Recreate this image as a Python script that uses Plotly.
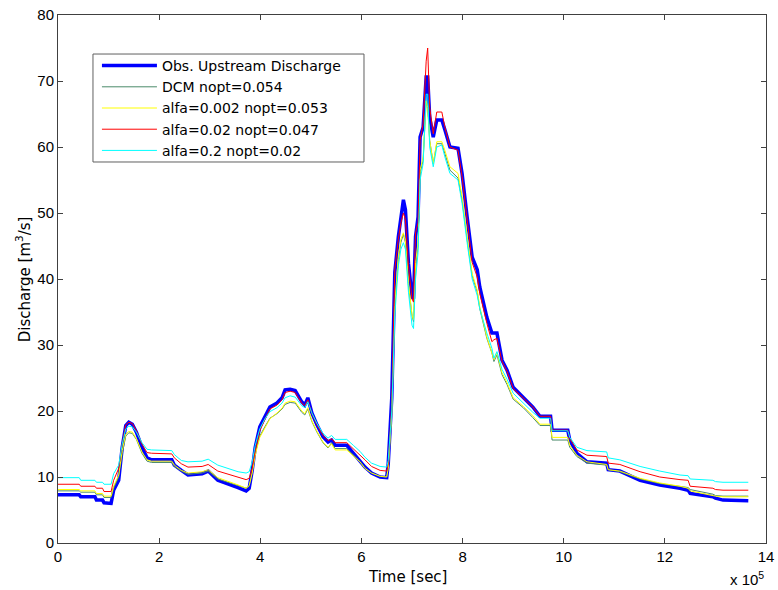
import numpy as np
import plotly.graph_objects as go

# time in units of 1e5 s
time_1e5 = [0.00, 0.42, 0.45, 0.73, 0.76, 0.88, 0.91, 1.05, 1.10, 1.20, 1.27, 1.34, 1.40, 1.47, 1.55, 1.66, 1.76, 1.85,
            2.25, 2.30, 2.44, 2.57, 2.85, 2.97, 3.16, 3.36, 3.56, 3.72, 3.78, 3.84, 3.90, 3.99, 4.09, 4.19, 4.33, 4.43,
            4.49, 4.59, 4.69, 4.82, 4.88, 4.94, 5.02, 5.12, 5.24, 5.34, 5.41, 5.48, 5.71, 5.84, 5.97, 6.07, 6.20, 6.37,
            6.50, 6.53, 6.60, 6.66, 6.73, 6.78, 6.83, 6.87, 6.93, 7.00, 7.03, 7.07, 7.12, 7.16, 7.22, 7.28, 7.31, 7.35,
            7.42, 7.49, 7.59, 7.65, 7.75, 7.91, 7.99, 8.09, 8.19, 8.29, 8.34, 8.48, 8.58, 8.62, 8.68, 8.78, 8.88, 9.00,
            9.20, 9.39, 9.53, 9.74, 9.77, 10.08, 10.12, 10.26, 10.46, 10.85, 10.88, 11.11, 11.51, 11.90, 12.30, 12.46,
            12.50, 12.95, 13.00, 13.15, 13.65]

obs = [7.3, 7.3, 7.0, 7.0, 6.5, 6.5, 6.1, 6.0, 8.0, 9.5, 14.5, 17.8, 18.3, 18.0, 16.8, 14.5, 12.9, 12.6,
       12.6, 11.8, 11.0, 10.3, 10.5, 10.9, 9.5, 9.0, 8.4, 7.9, 8.3, 11.0, 14.5, 17.6, 19.1, 20.6, 21.2, 22.0,
       23.2, 23.3, 23.1, 21.4, 20.9, 22.0, 19.7, 17.9, 16.1, 15.3, 15.6, 14.8, 14.8, 13.6, 12.6, 11.5, 10.6, 10.0,
       9.9, 12.0, 22.0, 41.0, 46.4, 49.4, 52.0, 50.5, 42.4, 37.3, 37.0, 46.4, 49.4, 61.5, 63.0, 70.6, 70.6, 64.5,
       61.5, 64.1, 64.1, 62.6, 60.0, 59.8, 56.0, 49.4, 43.3, 41.4, 38.8, 34.2, 31.8, 31.8, 31.8, 27.7, 26.2, 23.6,
       22.1, 20.6, 19.2, 19.2, 17.1, 17.1, 15.6, 13.6, 12.3, 12.1, 11.1, 10.9, 9.5, 8.8, 8.3, 8.0,
       7.5, 7.0, 6.8, 6.5, 6.4]

dcm = [7.9, 7.9, 7.7, 7.7, 7.3, 7.3, 6.9, 6.9, 8.3, 10.0, 13.5, 16.2, 16.7, 16.6, 15.7, 13.6, 12.4, 12.2,
       12.2, 11.6, 10.9, 10.4, 10.6, 10.9, 9.7, 9.2, 8.7, 8.3, 8.6, 10.7, 13.6, 16.2, 17.6, 18.9, 19.6, 20.3,
       21.0, 21.3, 21.2, 19.8, 19.4, 20.3, 18.4, 16.8, 15.2, 14.4, 15.2, 14.3, 14.3, 13.4, 12.4, 11.4, 10.6, 10.1,
       10.0, 11.5, 20.0, 36.0, 43.0, 45.5, 46.8, 45.5, 39.0, 34.5, 33.5, 42.0, 45.0, 56.0, 58.0, 67.0, 66.0, 61.0,
       57.5, 60.5, 60.5, 59.0, 56.5, 55.3, 52.0, 46.0, 40.5, 38.0, 35.5, 31.0, 28.8, 27.5, 28.5, 25.5, 24.0, 21.8,
       20.5, 19.0, 17.8, 17.8, 15.6, 15.6, 14.5, 13.1, 12.1, 11.8, 11.1, 10.8, 9.7, 9.0, 8.5, 8.4,
       8.1, 7.4, 7.2, 7.1, 7.1]

alfa_0002 = [8.1, 8.1, 7.9, 7.9, 7.5, 7.5, 7.1, 7.1, 8.6, 10.3, 14.0, 16.5, 16.9, 16.8, 15.8, 13.8, 12.6, 12.4,
             12.4, 11.8, 11.0, 10.6, 10.8, 11.1, 9.9, 9.4, 8.8, 8.3, 8.7, 10.6, 13.3, 16.0, 17.4, 18.8, 19.7, 20.4,
             21.2, 21.5, 21.4, 20.0, 19.6, 20.5, 18.5, 16.9, 15.3, 14.5, 15.0, 14.1, 14.1, 13.2, 12.3, 11.3, 10.6, 10.1,
             10.0, 11.3, 19.5, 36.0, 43.5, 46.0, 47.0, 45.8, 39.5, 34.5, 33.8, 42.5, 45.5, 56.5, 58.5, 67.0, 66.0, 61.0,
             57.5, 60.8, 60.8, 59.5, 57.0, 56.0, 52.5, 46.5, 40.8, 38.3, 35.8, 31.2, 29.0, 27.8, 28.8, 25.8, 24.3, 22.0,
             20.7, 19.3, 18.0, 18.0, 16.0, 16.0, 14.8, 13.3, 12.3, 11.9, 11.1, 10.9, 9.8, 9.1, 8.6, 8.3,
             7.9, 7.2, 7.1, 7.0, 7.0]

alfa_002 = [8.9, 8.9, 8.6, 8.6, 8.3, 8.3, 7.8, 7.8, 9.5, 11.3, 15.0, 17.9, 18.3, 18.1, 17.0, 15.0, 13.7, 13.6,
            13.5, 12.9, 12.0, 11.5, 11.6, 11.9, 10.9, 10.4, 10.0, 9.6, 9.8, 11.3, 14.0, 17.0, 18.7, 20.3, 20.9, 21.7,
            22.8, 23.0, 22.8, 21.2, 20.8, 21.7, 19.6, 17.9, 16.3, 15.5, 15.8, 15.2, 15.2, 14.3, 13.4, 12.6, 11.6, 11.0,
            10.9, 12.0, 21.0, 41.5, 46.0, 48.5, 50.0, 49.0, 42.0, 37.0, 36.5, 47.0, 48.5, 61.0, 63.5, 73.0, 75.0, 66.0,
            62.0, 65.3, 65.3, 63.0, 60.0, 59.5, 55.5, 48.5, 42.5, 40.3, 37.8, 33.3, 30.5, 30.8, 31.0, 27.5, 26.0, 23.4,
            22.0, 20.6, 19.2, 19.2, 17.1, 17.1, 15.8, 14.1, 13.3, 13.1, 12.1, 11.9, 10.8, 10.0, 9.6, 9.5,
            8.6, 8.3, 8.1, 8.0, 8.0]

alfa_02 = [9.9, 9.9, 9.5, 9.5, 9.2, 9.2, 8.9, 8.9, 10.5, 11.8, 15.0, 17.3, 17.7, 17.6, 16.8, 15.2, 14.2, 14.1,
           14.0, 13.4, 12.5, 12.3, 12.4, 12.7, 11.8, 11.3, 10.8, 10.6, 10.8, 12.3, 14.8, 17.3, 18.8, 19.9, 20.5, 21.2,
           22.0, 22.3, 22.1, 20.8, 20.5, 21.4, 19.7, 18.1, 16.6, 15.9, 16.3, 15.7, 15.7, 14.8, 13.9, 13.0, 12.1, 11.6,
           11.5, 12.5, 20.0, 34.5, 42.0, 44.5, 45.5, 44.5, 38.0, 33.0, 32.5, 40.0, 44.0, 55.0, 57.5, 68.0, 68.0, 60.0,
           57.0, 60.0, 60.3, 58.5, 56.0, 55.0, 51.5, 45.5, 40.0, 37.5, 35.5, 31.8, 29.5, 28.0, 29.0, 26.3, 24.8, 22.7,
           21.2, 19.8, 18.9, 18.9, 17.0, 17.0, 16.0, 14.5, 14.0, 13.8, 12.9, 12.6, 11.6, 10.9, 10.3, 10.2,
           9.7, 9.5, 9.3, 9.2, 9.2]

series_names = ["Obs. Upstream Discharge", "DCM nopt=0.054", "alfa=0.002 nopt=0.053",
                "alfa=0.02 nopt=0.047", "alfa=0.2 nopt=0.02"]
series_values = [obs, dcm, alfa_0002, alfa_002, alfa_02]
series_colors = ["#0000ff", "#4a8a6a", "#ffff00", "#ff0000", "#00ffff"]
series_widths = [3.5, 1, 1, 1, 1]

x_ticks = list(range(0, 15, 2))
y_ticks = list(range(0, 81, 10))

FONT = "Liberation Sans, Arial, sans-serif"
WIDE = "DejaVu Sans, Liberation Sans, sans-serif"
t = np.array(time_1e5) * 1e5

fig = go.Figure()
for name, vals, col, w in zip(series_names, series_values, series_colors, series_widths):
    fig.add_trace(go.Scatter(x=t, y=vals, mode="lines", name=name,
                             line=dict(color=col, width=w)))

axis_common = dict(showline=True, linecolor="#404040", linewidth=1, mirror="ticks",
                   ticks="inside", ticklen=5, tickcolor="#404040", showgrid=False, zeroline=False,
                   automargin=False,
                   tickfont=dict(family=FONT, size=15, color="black"))

fig.update_xaxes(range=[0, 14e5], tickvals=[v * 1e5 for v in x_ticks],
                 ticktext=[str(v) for v in x_ticks], **axis_common)
fig.update_yaxes(range=[0, 80], tickvals=y_ticks, ticktext=[str(v) for v in y_ticks], **axis_common)

# legend box (MATLAB style)
fig.add_shape(type="rect", xref="paper", yref="paper", x0=0.0494, x1=0.4322, y0=0.7216, y1=0.9261,
              line=dict(color="#606060", width=1), fillcolor="white", layer="above")

fig.update_layout(
    width=778, height=590,
    margin=dict(l=58, r=12, t=15, b=47),
    paper_bgcolor="white", plot_bgcolor="white",
    font=dict(family=FONT, size=15, color="black"),
    showlegend=True,
    legend=dict(x=0.055, y=0.9337, xanchor="left", yanchor="top",
                bgcolor="rgba(0,0,0,0)", borderwidth=0,
                font=dict(family=WIDE, size=14, color="black"),
                tracegroupgap=0, itemwidth=55),
    annotations=[
        dict(text="Time [sec]", xref="paper", yref="paper", x=0.494, y=-0.0645,
             xanchor="center", yanchor="middle", showarrow=False, font=dict(family=WIDE, size=15)),
        dict(text="Discharge [m<sup>3</sup>/s]", xref="paper", yref="paper", x=-0.049, y=0.5,
             xanchor="center", yanchor="middle", textangle=-90, showarrow=False,
             font=dict(family=WIDE, size=15)),
        dict(text="x 10<sup>5</sup>", xref="paper", yref="paper", x=1.0, y=-0.068,
             xanchor="right", yanchor="middle", showarrow=False, font=dict(size=15)),
    ],
)

fig.write_html("out.html", config={"displayModeBar": False},
               post_script="document.body.style.margin='0';document.body.style.overflow='hidden';")
